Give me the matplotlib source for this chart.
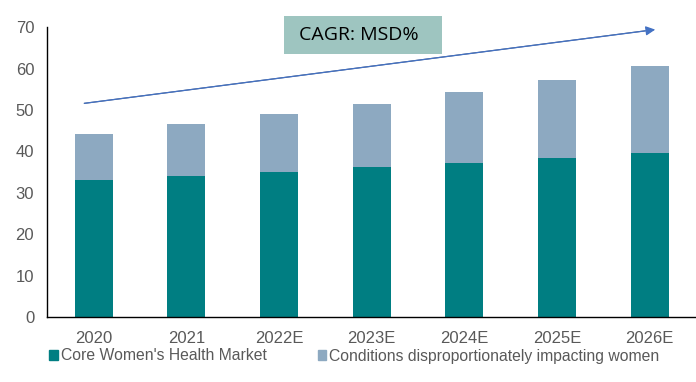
import matplotlib.pyplot as plt
from matplotlib.patches import Patch, Rectangle

years = ['2020', '2021', '2022E', '2023E', '2024E', '2025E', '2026E']
core = [33.1, 34.1, 35.0, 36.3, 37.2, 38.5, 39.6]
total = [44.1, 46.5, 49.0, 51.4, 54.3, 57.2, 60.6]
other = [t - c for t, c in zip(total, core)]

series_names = ["Core Women's Health Market", "Conditions disproportionately impacting women"]
cagr_text = 'CAGR: MSD%'

teal = '#007E82'
grey_blue = '#8DA9C1'
text_grey = '#595959'

fig = plt.figure(figsize=(6.96, 3.82), dpi=100)
ax = fig.add_axes([0.068, 0.170, 0.932, 0.759])

x = range(len(years))
ax.bar(x, core, width=0.41, color=teal)
ax.bar(x, other, width=0.41, bottom=core, color=grey_blue)

ax.set_xlim(-0.5, 6.5)
ax.set_ylim(0, 70)
ax.set_yticks(range(0, 71, 10))
ax.set_xticks(list(x))
ax.set_xticklabels(years)
ax.tick_params(length=0, labelsize=12, labelcolor=text_grey)
for lbl in ax.get_xticklabels() + ax.get_yticklabels():
    lbl.set_fontfamily('Liberation Sans')
ax.tick_params(axis='x', pad=10)
ax.tick_params(axis='y', pad=9.5)

for s in ['top', 'right']:
    ax.spines[s].set_visible(False)
for s in ['left', 'bottom']:
    ax.spines[s].set_color('black')
    ax.spines[s].set_linewidth(1.0)

# growth arrow
ax.annotate('', xy=(6.06, 69.4), xytext=(-0.1, 51.6),
            arrowprops=dict(arrowstyle='-|>', color='#44546A', lw=0.9,
                            mutation_scale=14, shrinkA=0, shrinkB=0,
                            fc='#4472C4', ec='#4472C4'),
            annotation_clip=False)
ax.plot([-0.1, 5.95], [51.6, 69.1], color='#4A5A78', lw=0.8)

# CAGR box
fig.patches.append(Rectangle((284 / 696, 1 - 54 / 382), 158 / 696, 38 / 382,
                             transform=fig.transFigure, fc='#9EC5C0', ec='none'))
fig.text(359 / 696, 1 - 35 / 382, cagr_text, fontsize=14, family='Open Sans',
         va='center', ha='center', color='black')

handles = [Patch(color=teal), Patch(color=grey_blue)]
fig.legend(handles, series_names, loc='center left', bbox_to_anchor=(0.050, 1 - 356 / 382),
           ncol=2, frameon=False, handlelength=0.55, handleheight=0.55,
           handletextpad=0.2, columnspacing=3.25,
           prop={'family': 'Liberation Sans', 'size': 11.3}, labelcolor=text_grey)

fig.savefig('out.png', dpi=100)
